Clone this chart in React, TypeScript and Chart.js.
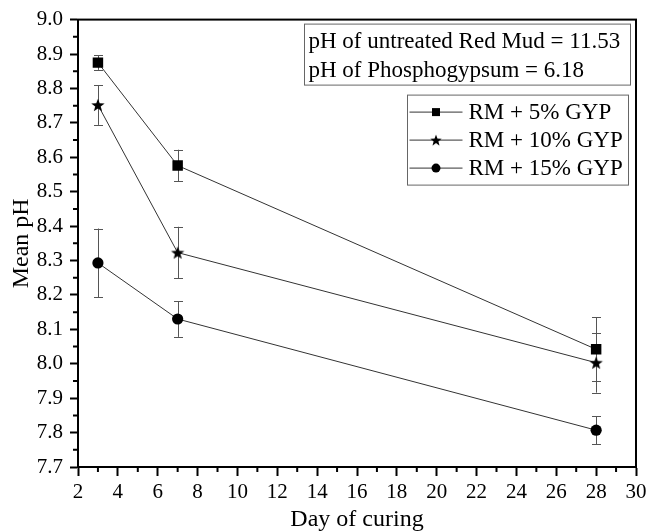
import React, { useEffect, useRef } from "react";
import { Chart, registerables } from "chart.js";

Chart.register(...registerables);

// ---- data ----
const days = [3, 7, 28];
const seriesNames = ["RM + 5% GYP", "RM + 10% GYP", "RM + 15% GYP"];
const rm5 = [8.875, 8.576, 8.042];
const rm5Err = [0.021, 0.046, 0.093];
const rm10 = [8.752, 8.323, 8.003];
const rm10Err = [0.058, 0.075, 0.087];
const rm15 = [8.293, 8.13, 7.807];
const rm15Err = [0.1, 0.052, 0.041];
const infoLines = ["pH of untreated Red Mud = 11.53", "pH of Phosphogypsum = 6.18"];
const xTitle = "Day of curing";
const yTitle = "Mean pH";
const xMin = 2, xMax = 30, xStep = 2;
const yMin = 7.7, yMax = 9.0, yStep = 0.1;

const FONT = "'Liberation Serif', 'Times New Roman', serif";

function makeStar(outer: number, inner: number): HTMLCanvasElement {
  const size = Math.ceil(outer * 2) + 2;
  const c = document.createElement("canvas");
  c.width = size;
  c.height = size;
  const ctx = c.getContext("2d")!;
  ctx.beginPath();
  const cx = size / 2, cy = size / 2 + outer * 0.1;
  for (let i = 0; i < 10; i++) {
    const r = i % 2 === 0 ? outer : inner;
    const a = -Math.PI / 2 + (i * Math.PI) / 5;
    ctx.lineTo(cx + r * Math.cos(a), cy + r * Math.sin(a));
  }
  ctx.closePath();
  ctx.fillStyle = "#000";
  ctx.fill();
  return c;
}

const errs = [rm5Err, rm10Err, rm15Err];

function drawMarker(ctx: CanvasRenderingContext2D, kind: number, x: number, y: number, star: HTMLCanvasElement) {
  ctx.fillStyle = "#000";
  if (kind === 0) {
    ctx.fillRect(x - 4, y - 4, 8, 8);
  } else if (kind === 1) {
    ctx.drawImage(star, x - star.width / 2, y - star.height / 2);
  } else {
    ctx.beginPath();
    ctx.arc(x, y, 4.5, 0, Math.PI * 2);
    ctx.fill();
  }
}

export default function App() {
  const ref = useRef<HTMLCanvasElement | null>(null);
  useEffect(() => {
    document.body.style.margin = "0";
    const canvas = ref.current!;
    const star = makeStar(7, 2.9);
    const legendStar = makeStar(6, 2.5);

    const decor = {
      id: "decor",
      beforeDatasetsDraw(chart: any) {
        const ctx = chart.ctx as CanvasRenderingContext2D;
        const xs = chart.scales.x, ys = chart.scales.y;
        ctx.save();
        ctx.strokeStyle = "#555";
        ctx.lineWidth = 1;
        chart.data.datasets.forEach((ds: any, i: number) => {
          ds.data.forEach((p: any, j: number) => {
            const e = errs[i][j];
            const x = Math.round(xs.getPixelForValue(p.x)) + 0.5;
            const y1 = ys.getPixelForValue(p.y + e);
            const y2 = ys.getPixelForValue(p.y - e);
            ctx.beginPath();
            ctx.moveTo(x, y1);
            ctx.lineTo(x, y2);
            ctx.moveTo(x - 4.5, Math.round(y1) + 0.5);
            ctx.lineTo(x + 4.5, Math.round(y1) + 0.5);
            ctx.moveTo(x - 4.5, Math.round(y2) + 0.5);
            ctx.lineTo(x + 4.5, Math.round(y2) + 0.5);
            ctx.stroke();
          });
        });
        ctx.restore();
      },
      afterDraw(chart: any) {
        const ctx = chart.ctx as CanvasRenderingContext2D;
        const { left, right, top, bottom } = chart.chartArea;
        const xs = chart.scales.x, ys = chart.scales.y;
        ctx.save();
        // frame
        ctx.strokeStyle = "#000";
        ctx.lineWidth = 2;
        ctx.strokeRect(left, top, right - left, bottom - top);
        // minor ticks
        ctx.beginPath();
        for (let v = xMin + xStep / 2; v < xMax; v += xStep) {
          const px = xs.getPixelForValue(v);
          ctx.moveTo(px, bottom);
          ctx.lineTo(px, bottom + 5);
        }
        for (let v = yMin + yStep / 2; v < yMax; v += yStep) {
          const py = ys.getPixelForValue(v);
          ctx.moveTo(left, py);
          ctx.lineTo(left - 5, py);
        }
        ctx.stroke();

        // info box
        ctx.lineWidth = 1;
        ctx.strokeStyle = "#666";
        const bx1 = right - 331.5, bx2 = right - 5.5, by1 = top + 4.5, by2 = top + 65.5;
        ctx.strokeRect(bx1, by1, bx2 - bx1, by2 - by1);
        ctx.fillStyle = "#000";
        ctx.font = `23px ${FONT}`;
        ctx.textBaseline = "middle";
        ctx.textAlign = "left";
        infoLines.forEach((t, i) => ctx.fillText(t, bx1 + 4, top + 22 + i * 29));

        // legend
        const lx1 = right - 228.5, lx2 = right - 7.5, ly1 = top + 75.5, ly2 = top + 165.5;
        ctx.strokeRect(lx1, ly1, lx2 - lx1, ly2 - ly1);
        chart.data.datasets.forEach((ds: any, i: number) => {
          const y = top + 92 + i * 28;
          ctx.strokeStyle = "#333";
          ctx.lineWidth = 1;
          ctx.beginPath();
          ctx.moveTo(lx1 + 2, y + 0.5);
          ctx.lineTo(lx1 + 55, y + 0.5);
          ctx.stroke();
          drawMarker(ctx, i, lx1 + 28.5, y + 0.5, legendStar);
          ctx.fillStyle = "#000";
          ctx.fillText(ds.label, lx1 + 61, y + 1);
        });
        ctx.restore();
      },
    };

    const mk = (label: string, ys: number[], style: any, radius: number) => ({
      label,
      data: days.map((d, i) => ({ x: d, y: ys[i] })),
      borderColor: "#333",
      borderWidth: 1,
      backgroundColor: "#000",
      pointBackgroundColor: "#000",
      pointBorderColor: "#000",
      pointBorderWidth: 0,
      pointStyle: style,
      pointRadius: radius,
      pointHoverRadius: radius,
      fill: false,
      tension: 0,
    });

    const chart = new Chart(canvas, {
      type: "line",
      data: {
        datasets: [
          mk(seriesNames[0], rm5, "rect", 7.4),
          mk(seriesNames[1], rm10, star, 7),
          mk(seriesNames[2], rm15, "circle", 5.6),
        ],
      },
      plugins: [decor],
      options: {
        animation: false,
        responsive: false,
        devicePixelRatio: 1,
        layout: { padding: { top: 16, right: 20, left: 0, bottom: 0 } },
        plugins: { legend: { display: false }, tooltip: { enabled: false } },
        scales: {
          x: {
            type: "linear",
            min: xMin,
            max: xMax,
            afterFit: (s: any) => { s.height = 64; },
            ticks: {
              stepSize: xStep,
              color: "#000",
              padding: 4,
              font: { family: FONT, size: 21 },
              maxRotation: 0,
            },
            grid: { drawOnChartArea: false, drawTicks: true, tickLength: 9, tickColor: "#000", tickWidth: 2 },
            border: { display: true, color: "#000", width: 2 },
            title: {
              display: true,
              text: xTitle,
              color: "#000",
              font: { family: FONT, size: 24, lineHeight: 0.9 },
              padding: { top: 0, bottom: 0 },
            },
          },
          y: {
            type: "linear",
            min: yMin,
            max: yMax,
            afterFit: (s: any) => { s.width = 78; },
            ticks: {
              stepSize: yStep,
              color: "#000",
              padding: 7,
              font: { family: FONT, size: 21 },
              callback: (v: any) => Number(v).toFixed(1),
            },
            grid: { drawOnChartArea: false, drawTicks: true, tickLength: 8, tickColor: "#000", tickWidth: 2 },
            border: { display: true, color: "#000", width: 2 },
            title: {
              display: true,
              text: yTitle,
              color: "#000",
              font: { family: FONT, size: 24, lineHeight: 0.9 },
              padding: { top: 11, bottom: 0 },
            },
          },
        },
      },
    } as any);
    return () => chart.destroy();
  }, []);

  return (
    <div style={{ position: "fixed", left: 0, top: 0, width: 656, height: 531, background: "#fff" }}>
      <canvas ref={ref} width={656} height={531} style={{ display: "block" }} />
    </div>
  );
}
